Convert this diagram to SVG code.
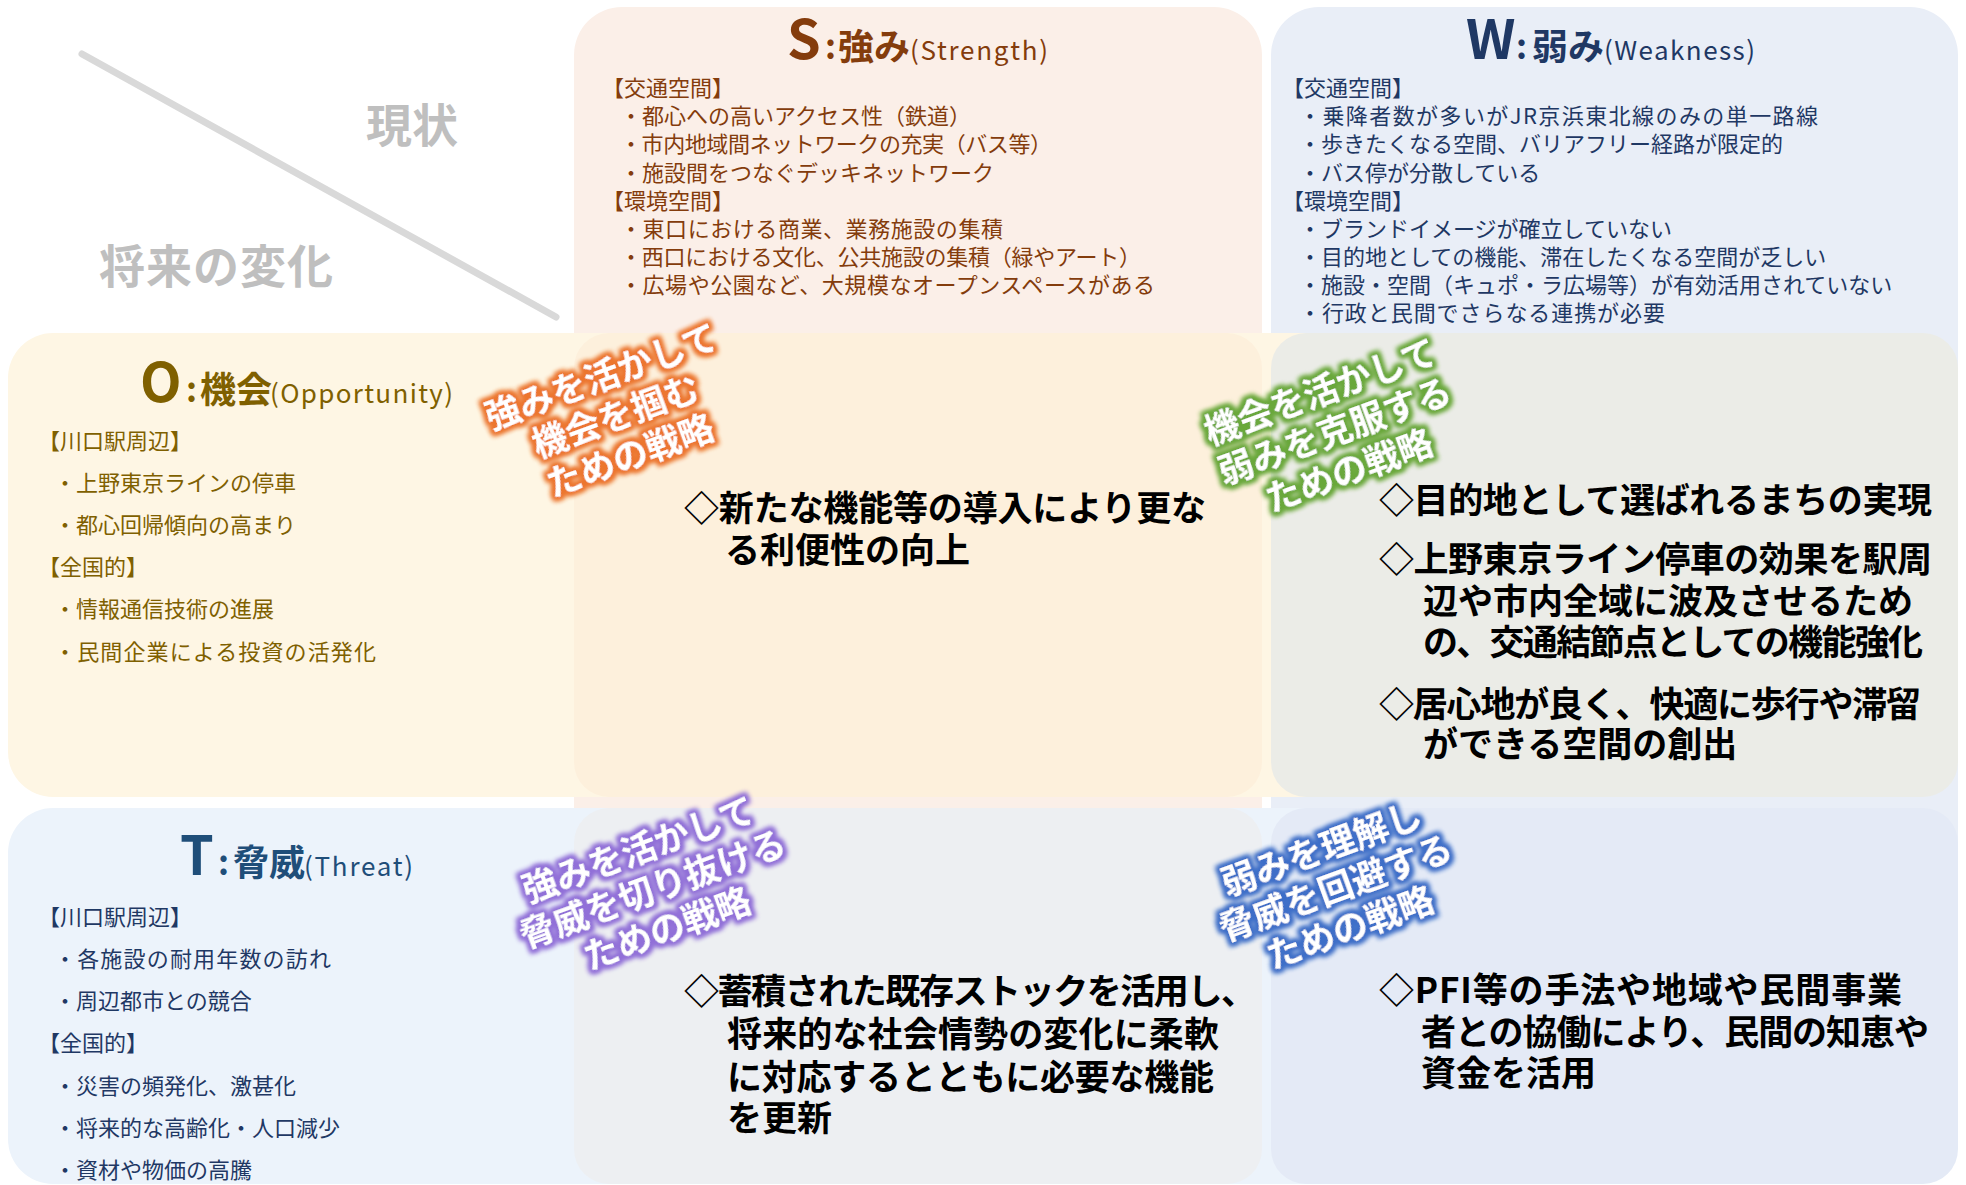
<svg xmlns="http://www.w3.org/2000/svg" width="1966" height="1185" viewBox="0 0 1966 1185">
<defs>
<style>
text { font-family: "Noto Sans CJK JP", "Noto Sans", sans-serif; }
.hdr { fill:#bfbfbf; font-size:46px; font-weight:bold; }
.big { font-size:54px; font-weight:bold; }
.col { font-size:34px; font-weight:bold; }
.kj { font-size:36px; font-weight:bold; }
.en { font-size:26px; }
.sb { fill:#843c0c; font-size:22px; }
.wb { fill:#1f3864; font-size:22px; }
.ob { fill:#7f6000; font-size:22px; }
.tb { fill:#1f3864; font-size:22px; }
.st { fill:#000; font-size:35px; font-weight:bold; }
.lab { fill:#fff; font-size:35px; font-weight:bold; text-anchor:middle; }
</style>
<filter id="glow-orange" x="-30%" y="-60%" width="160%" height="220%">
 <feMorphology in="SourceAlpha" operator="dilate" radius="2.5" result="d"/>
 <feGaussianBlur in="d" stdDeviation="2.5" result="b"/>
 <feFlood flood-color="#ec7630"/>
 <feComposite in2="b" operator="in" result="g"/>
 <feMerge><feMergeNode in="g"/><feMergeNode in="g"/><feMergeNode in="SourceGraphic"/></feMerge>
</filter>
<filter id="glow-green" x="-30%" y="-60%" width="160%" height="220%">
 <feMorphology in="SourceAlpha" operator="dilate" radius="2.5" result="d"/>
 <feGaussianBlur in="d" stdDeviation="2.5" result="b"/>
 <feFlood flood-color="#6aa83c"/>
 <feComposite in2="b" operator="in" result="g"/>
 <feMerge><feMergeNode in="g"/><feMergeNode in="g"/><feMergeNode in="SourceGraphic"/></feMerge>
</filter>
<filter id="glow-purple" x="-30%" y="-60%" width="160%" height="220%">
 <feMorphology in="SourceAlpha" operator="dilate" radius="2.5" result="d"/>
 <feGaussianBlur in="d" stdDeviation="2.5" result="b"/>
 <feFlood flood-color="#9170d8"/>
 <feComposite in2="b" operator="in" result="g"/>
 <feMerge><feMergeNode in="g"/><feMergeNode in="g"/><feMergeNode in="SourceGraphic"/></feMerge>
</filter>
<filter id="glow-blue" x="-30%" y="-60%" width="160%" height="220%">
 <feMorphology in="SourceAlpha" operator="dilate" radius="2.5" result="d"/>
 <feGaussianBlur in="d" stdDeviation="2.5" result="b"/>
 <feFlood flood-color="#3f6fc8"/>
 <feComposite in2="b" operator="in" result="g"/>
 <feMerge><feMergeNode in="g"/><feMergeNode in="g"/><feMergeNode in="SourceGraphic"/></feMerge>
</filter>
</defs>

<rect x="0" y="0" width="1966" height="1185" fill="#ffffff"/>

<g id="node-S">
 <rect x="574" y="7" width="688" height="1177" rx="48" fill="#fbefe8"/>
 <text class="big" x="787" y="59" fill="#843c0c">S</text>
 <text class="col" x="825" y="59" fill="#843c0c">:</text>
 <text class="kj" x="838" y="60" fill="#843c0c">強み</text>
 <text class="en" x="910" y="60" fill="#843c0c" textLength="138">(Strength)</text>
 <text class="sb" x="602" y="96">【交通空間】</text>
 <text class="sb" x="620" y="124">・都心への高いアクセス性（鉄道）</text>
 <text class="sb" x="620" y="152" textLength="432">・市内地域間ネットワークの充実（バス等）</text>
 <text class="sb" x="620" y="181">・施設間をつなぐデッキネットワーク</text>
 <text class="sb" x="602" y="209">【環境空間】</text>
 <text class="sb" x="620" y="237" textLength="383">・東口における商業、業務施設の集積</text>
 <text class="sb" x="620" y="265" textLength="521">・西口における文化、公共施設の集積（緑やアート）</text>
 <text class="sb" x="620" y="293" textLength="535">・広場や公園など、大規模なオープンスペースがある</text>
</g>

<g id="node-W">
 <rect x="1271" y="7" width="687" height="1177" rx="48" fill="#e9eef7"/>
 <text class="big" x="1466" y="59" fill="#1f3864">W</text>
 <text class="col" x="1516" y="59" fill="#1f3864">:</text>
 <text class="kj" x="1532" y="60" fill="#1f3864">弱み</text>
 <text class="en" x="1604" y="60" fill="#1f3864" textLength="151">(Weakness)</text>
 <text class="wb" x="1282" y="96">【交通空間】</text>
 <text class="wb" x="1299" y="124" textLength="519">・乗降者数が多いがJR京浜東北線のみの単一路線</text>
 <text class="wb" x="1299" y="152">・歩きたくなる空間、バリアフリー経路が限定的</text>
 <text class="wb" x="1299" y="181">・バス停が分散している</text>
 <text class="wb" x="1282" y="209">【環境空間】</text>
 <text class="wb" x="1299" y="237">・ブランドイメージが確立していない</text>
 <text class="wb" x="1299" y="265">・目的地としての機能、滞在したくなる空間が乏しい</text>
 <text class="wb" x="1299" y="293">・施設・空間（キュポ・ラ広場等）が有効活用されていない</text>
 <text class="wb" x="1299" y="321" textLength="366">・行政と民間でさらなる連携が必要</text>
</g>

<g id="node-O">
 <rect x="8" y="333" width="1950" height="464" rx="45" fill="#fef6e4"/>
 <text class="big" x="140" y="402" fill="#7f6000">O</text>
 <text class="col" x="186" y="402" fill="#7f6000">:</text>
 <text class="kj" x="200" y="403" fill="#7f6000">機会</text>
 <text class="en" x="270" y="403" fill="#7f6000" textLength="183">(Opportunity)</text>
 <text class="ob" x="38" y="449">【川口駅周辺】</text>
 <text class="ob" x="54" y="491">・上野東京ラインの停車</text>
 <text class="ob" x="54" y="533">・都心回帰傾向の高まり</text>
 <text class="ob" x="38" y="575">【全国的】</text>
 <text class="ob" x="54" y="617">・情報通信技術の進展</text>
 <text class="ob" x="54" y="660" textLength="322">・民間企業による投資の活発化</text>
</g>

<g id="node-T">
 <rect x="8" y="808" width="1950" height="376" rx="45" fill="#ecf3fb"/>
 <text class="big" x="180" y="875" fill="#1f4e79">T</text>
 <text class="col" x="218" y="875" fill="#1f4e79">:</text>
 <text class="kj" x="233" y="876" fill="#1f4e79">脅威</text>
 <text class="en" x="304" y="876" fill="#1f4e79" textLength="109">(Threat)</text>
 <text class="tb" x="38" y="925">【川口駅周辺】</text>
 <text class="tb" x="54" y="967" textLength="277">・各施設の耐用年数の訪れ</text>
 <text class="tb" x="54" y="1009">・周辺都市との競合</text>
 <text class="tb" x="38" y="1051">【全国的】</text>
 <text class="tb" x="54" y="1094">・災害の頻発化、激甚化</text>
 <text class="tb" x="54" y="1136">・将来的な高齢化・人口減少</text>
 <text class="tb" x="54" y="1178">・資材や物価の高騰</text>
</g>

<g id="cell-SO">
 <rect x="574" y="333" width="688" height="464" rx="35" fill="#fdf0dc"/>
 <text class="st" x="684" y="521" textLength="522">◇新たな機能等の導入により更な</text>
 <text class="st" x="725" y="563">る利便性の向上</text>
</g>

<g id="cell-WO">
 <rect x="1271" y="333" width="687" height="464" rx="35" fill="#ebece7"/>
 <text class="st" x="1379" y="513" textLength="553">◇目的地として選ばれるまちの実現</text>
 <text class="st" x="1379" y="572" textLength="553">◇上野東京ライン停車の効果を駅周</text>
 <text class="st" x="1423" y="614" textLength="490">辺や市内全域に波及させるため</text>
 <text class="st" x="1423" y="655" textLength="500">の、交通結節点としての機能強化</text>
 <text class="st" x="1379" y="717" textLength="542">◇居心地が良く、快適に歩行や滞留</text>
 <text class="st" x="1423" y="757">ができる空間の創出</text>
</g>

<g id="cell-ST">
 <rect x="574" y="808" width="688" height="376" rx="35" fill="#edeff2"/>
 <text class="st" x="684" y="1004" textLength="572">◇蓄積された既存ストックを活用し、</text>
 <text class="st" x="727" y="1047" textLength="492">将来的な社会情勢の変化に柔軟</text>
 <text class="st" x="727" y="1090" textLength="487">に対応するとともに必要な機能</text>
 <text class="st" x="727" y="1131">を更新</text>
</g>

<g id="cell-WT">
 <rect x="1271" y="808" width="687" height="376" rx="35" fill="#e4eaf6"/>
 <text class="st" x="1379" y="1003" textLength="523">◇PFI等の手法や地域や民間事業</text>
 <text class="st" x="1421" y="1045" textLength="508">者との協働により、民間の知恵や</text>
 <text class="st" x="1421" y="1086">資金を活用</text>
</g>

<g id="corner-header">
 <line x1="82" y1="54" x2="556" y2="317" stroke="#d9d9d9" stroke-width="7" stroke-linecap="round"/>
 <text class="hdr" x="366" y="142">現状</text>
 <text class="hdr" x="99" y="283" textLength="234">将来の変化</text>
</g>

<g id="label-SO" transform="translate(616,417) rotate(-20)" filter="url(#glow-orange)">
 <text class="lab" x="0" y="-30">強みを活かして</text>
 <text class="lab" x="0" y="12">機会を掴む</text>
 <text class="lab" x="0" y="54">ための戦略</text>
</g>

<g id="label-WO" transform="translate(1335,432) rotate(-20)" filter="url(#glow-green)">
 <text class="lab" x="0" y="-30">機会を活かして</text>
 <text class="lab" x="0" y="12">弱みを克服する</text>
 <text class="lab" x="0" y="54">ための戦略</text>
</g>

<g id="label-ST" transform="translate(653,890) rotate(-20)" filter="url(#glow-purple)">
 <text class="lab" x="0" y="-30">強みを活かして</text>
 <text class="lab" x="0" y="12">脅威を切り抜ける</text>
 <text class="lab" x="0" y="54">ための戦略</text>
</g>

<g id="label-WT" transform="translate(1336,889) rotate(-20)" filter="url(#glow-blue)">
 <text class="lab" x="0" y="-30">弱みを理解し</text>
 <text class="lab" x="0" y="12">脅威を回避する</text>
 <text class="lab" x="0" y="54">ための戦略</text>
</g>
</svg>
